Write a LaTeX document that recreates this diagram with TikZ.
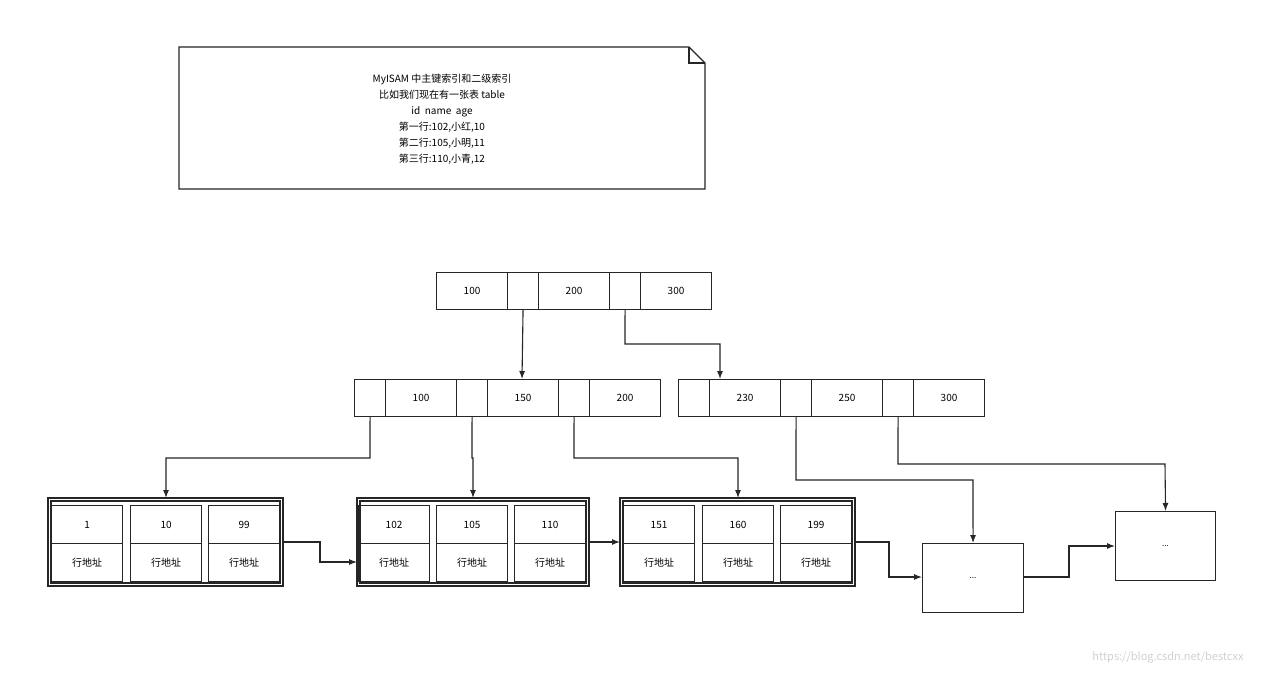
\documentclass[tikz,border=0pt]{standalone}
\usepackage{fontspec}
\setmainfont{Noto Sans CJK SC}
\begin{document}
\begin{tikzpicture}[x=1pt,y=-1pt,
  ln/.style={draw=black!85,line width=1.1pt},
  arr/.style={ln,-{Latex[length=8pt,width=6pt]}},
  cell/.style={ln,minimum height=37pt,inner sep=0pt,font=\fontsize{10}{12}\selectfont},
  wide/.style={cell,minimum width=71pt},
  narrow/.style={cell,minimum width=31pt},
  lc/.style={ln,minimum width=71pt,minimum height=38pt,inner sep=0pt,font=\fontsize{10}{12}\selectfont},
  ]
\usetikzlibrary{arrows.meta}
\useasboundingbox (0,0) rectangle (1277,675);
\fill[white] (0,0) rectangle (1277,675);
% note
\draw[ln] (179,47) -- (689,47) -- (705,63) -- (705,189) -- (179,189) -- cycle;
\draw[ln] (689,47) -- (689,63) -- (705,63);
\node[align=center,font=\fontsize{10}{16}\selectfont] (note) at (442,119) {MyISAM 中主键索引和二级索引\\比如我们现在有一张表 table\\id\ \ name\ \ age\\第一行:102,小红,10\\第二行:105,小明,11\\第三行:110,小青,12};
% root
\node[wide,anchor=north west] (r1) at (436,272) {100};
\node[narrow,anchor=north west] (r2) at (507,272) {};
\node[wide,anchor=north west] (r3) at (538,272) {200};
\node[narrow,anchor=north west] (r4) at (609,272) {};
\node[wide,anchor=north west] (r5) at (640,272) {300};
% level 2 left
\node[narrow,anchor=north west] (a1) at (354,379) {};
\node[wide,anchor=north west] (a2) at (385,379) {100};
\node[narrow,anchor=north west] (a3) at (456,379) {};
\node[wide,anchor=north west] (a4) at (487,379) {150};
\node[narrow,anchor=north west] (a5) at (558,379) {};
\node[wide,anchor=north west] (a6) at (589,379) {200};
% level 2 right
\node[narrow,anchor=north west] (b1) at (678,379) {};
\node[wide,anchor=north west] (b2) at (709,379) {230};
\node[narrow,anchor=north west] (b3) at (780,379) {};
\node[wide,anchor=north west] (b4) at (811,379) {250};
\node[narrow,anchor=north west] (b5) at (882,379) {};
\node[wide,anchor=north west] (b6) at (913,379) {300};
% leaves
\foreach \n/\ox/\ow/\xa/\xb/\xc/\ta/\tb/\tc in {L1/48/235/51/130/208/1/10/99, L2/357/232/358/436/514/102/105/110, L3/620/235/623/702/780/151/160/199}{
  \draw[ln] (\ox,498) rectangle ++(\ow,88);
  \draw[ln] (\ox+3,501) rectangle ++(\ow-6,82);
  \node[lc,anchor=north west] (\n a) at (\xa,505) {\ta};
  \node[lc,anchor=north west] (\n b) at (\xb,505) {\tb};
  \node[lc,anchor=north west] (\n c) at (\xc,505) {\tc};
  \node[lc,anchor=north west] (\n d) at (\xa,543) {行地址};
  \node[lc,anchor=north west] (\n e) at (\xb,543) {行地址};
  \node[lc,anchor=north west] (\n f) at (\xc,543) {行地址};
}
\coordinate (L1) at (283,542); \coordinate (L1r) at (357,562);
\coordinate (L2) at (589,542); \coordinate (L2r) at (620,542);
\coordinate (L3) at (855,542);
\node[ln,minimum width=101pt,minimum height=69pt,anchor=north west,font=\fontsize{8}{10}\selectfont] (d1) at (922,543) {...};
\node[ln,minimum width=100pt,minimum height=69pt,anchor=north west,font=\fontsize{8}{10}\selectfont] (d2) at (1115,511) {...};
% arrows
\draw[arr] (r2.south) -- (522,379);
\draw[arr] (r4.south) -- (625,344) -- (720,344) -- (720,379);
\draw[arr] (a1.south) -- (370,458) -- (166,458) -- (166,498);
\draw[arr] (a3.south) -- (472,458) -- (473,458) -- (473,498);
\draw[arr] (a5.south) -- (574,458) -- (738,458) -- (738,498);
\draw[arr] (b3.south) -- (796,480) -- (973,480) -- (d1.north);
\draw[arr] (b5.south) -- (898,464) -- (1165,464) -- (d2.north);
\draw[arr] (L1) -- (320,542) -- (320,562) -- (L1r);
\draw[arr] (L2) -- (L2r);
\draw[arr] (L3) -- (889,542) -- (889,577) -- (d1.west|-0,577);
\draw[arr] (d1.east|-0,577) -- (1069,577) -- (1069,546) -- (d2.west|-0,546);
\node[text=black!18,font=\fontsize{11}{13}\selectfont] (wm) at (1168,657) {https://blog.csdn.net/bestcxx};
\end{tikzpicture}
\end{document}
